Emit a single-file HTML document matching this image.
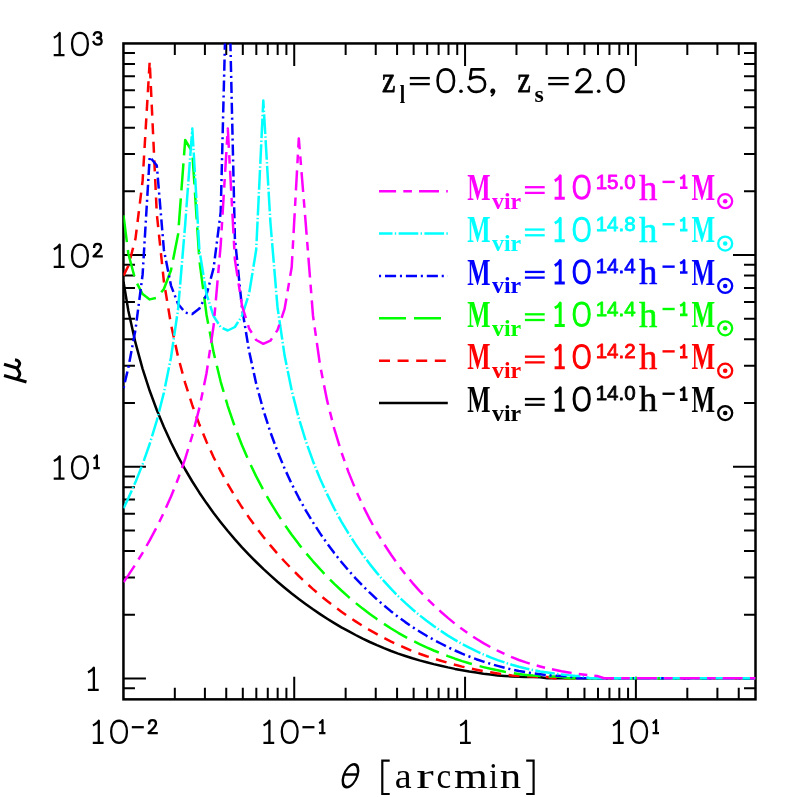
<!DOCTYPE html><html><head><meta charset="utf-8"><style>html,body{margin:0;padding:0;background:#fff}body{width:797px;height:797px;position:relative;overflow:hidden;font-family:"Liberation Sans",sans-serif}</style></head><body><svg width="797" height="797" viewBox="0 0 797 797" style="position:absolute;left:0;top:0">
<rect width="797" height="797" fill="#fff"/>
<defs><clipPath id="c"><rect x="123.45" y="43.45" width="632.05" height="655.9"/></clipPath></defs>
<path d="M174.82,699.35 v-11.5 M174.82,43.45 v11.5 M204.91,699.35 v-11.5 M204.91,43.45 v11.5 M226.25,699.35 v-11.5 M226.25,43.45 v11.5 M242.81,699.35 v-11.5 M242.81,43.45 v11.5 M256.33,699.35 v-11.5 M256.33,43.45 v11.5 M267.77,699.35 v-11.5 M267.77,43.45 v11.5 M277.67,699.35 v-11.5 M277.67,43.45 v11.5 M286.41,699.35 v-11.5 M286.41,43.45 v11.5 M294.23,699.35 v-22.5 M294.23,43.45 v22.5 M345.65,699.35 v-11.5 M345.65,43.45 v11.5 M375.74,699.35 v-11.5 M375.74,43.45 v11.5 M397.08,699.35 v-11.5 M397.08,43.45 v11.5 M413.64,699.35 v-11.5 M413.64,43.45 v11.5 M427.16,699.35 v-11.5 M427.16,43.45 v11.5 M438.60,699.35 v-11.5 M438.60,43.45 v11.5 M448.50,699.35 v-11.5 M448.50,43.45 v11.5 M457.24,699.35 v-11.5 M457.24,43.45 v11.5 M465.06,699.35 v-22.5 M465.06,43.45 v22.5 M516.48,699.35 v-11.5 M516.48,43.45 v11.5 M546.57,699.35 v-11.5 M546.57,43.45 v11.5 M567.91,699.35 v-11.5 M567.91,43.45 v11.5 M584.47,699.35 v-11.5 M584.47,43.45 v11.5 M597.99,699.35 v-11.5 M597.99,43.45 v11.5 M609.43,699.35 v-11.5 M609.43,43.45 v11.5 M619.33,699.35 v-11.5 M619.33,43.45 v11.5 M628.07,699.35 v-11.5 M628.07,43.45 v11.5 M635.89,699.35 v-22.5 M635.89,43.45 v22.5 M687.31,699.35 v-11.5 M687.31,43.45 v11.5 M717.40,699.35 v-11.5 M717.40,43.45 v11.5 M738.74,699.35 v-11.5 M738.74,43.45 v11.5 M123.45,688.19 h11.5 M755.5,688.19 h-11.5 M123.45,678.50 h22.5 M755.5,678.50 h-22.5 M123.45,614.77 h11.5 M755.5,614.77 h-11.5 M123.45,577.49 h11.5 M755.5,577.49 h-11.5 M123.45,551.04 h11.5 M755.5,551.04 h-11.5 M123.45,530.53 h11.5 M755.5,530.53 h-11.5 M123.45,513.77 h11.5 M755.5,513.77 h-11.5 M123.45,499.59 h11.5 M755.5,499.59 h-11.5 M123.45,487.32 h11.5 M755.5,487.32 h-11.5 M123.45,476.49 h11.5 M755.5,476.49 h-11.5 M123.45,466.80 h22.5 M755.5,466.80 h-22.5 M123.45,403.07 h11.5 M755.5,403.07 h-11.5 M123.45,365.79 h11.5 M755.5,365.79 h-11.5 M123.45,339.34 h11.5 M755.5,339.34 h-11.5 M123.45,318.83 h11.5 M755.5,318.83 h-11.5 M123.45,302.07 h11.5 M755.5,302.07 h-11.5 M123.45,287.89 h11.5 M755.5,287.89 h-11.5 M123.45,275.62 h11.5 M755.5,275.62 h-11.5 M123.45,264.79 h11.5 M755.5,264.79 h-11.5 M123.45,255.10 h22.5 M755.5,255.10 h-22.5 M123.45,191.37 h11.5 M755.5,191.37 h-11.5 M123.45,154.09 h11.5 M755.5,154.09 h-11.5 M123.45,127.64 h11.5 M755.5,127.64 h-11.5 M123.45,107.13 h11.5 M755.5,107.13 h-11.5 M123.45,90.37 h11.5 M755.5,90.37 h-11.5 M123.45,76.19 h11.5 M755.5,76.19 h-11.5 M123.45,63.92 h11.5 M755.5,63.92 h-11.5 M123.45,53.09 h11.5 M755.5,53.09 h-11.5" stroke="#000" stroke-width="2.0" fill="none"/>
<rect x="123.45" y="43.45" width="632.05" height="655.9" fill="none" stroke="#000" stroke-width="2.5"/>
<g clip-path="url(#c)" fill="none" stroke-width="2.50" stroke-linejoin="round">
<path d="M123.5,281.6 L128.4,311.0 L135.5,342.9 L142.6,368.8 L149.7,390.8 L156.8,410.0 L163.9,427.1 L171.0,442.5 L178.1,456.6 L185.2,469.5 L192.3,481.5 L199.4,492.7 L206.5,503.1 L213.6,513.0 L220.7,522.2 L227.8,531.0 L234.9,539.4 L242.0,547.3 L249.1,554.8 L256.2,562.0 L263.3,568.9 L270.4,575.4 L277.5,581.7 L284.6,587.7 L291.7,593.5 L298.8,599.0 L305.9,604.2 L313.0,609.3 L320.1,614.1 L327.2,618.7 L334.3,623.1 L341.4,627.3 L348.5,631.2 L355.6,635.0 L362.7,638.6 L369.8,642.0 L376.9,645.2 L384.0,648.2 L391.1,651.0 L398.2,653.6 L405.3,656.0 L412.4,658.3 L419.5,660.4 L426.6,662.3 L433.7,664.1 L440.8,665.7 L447.9,667.4 L455.0,668.9 L462.1,670.2 L469.2,671.5 L476.3,672.6 L483.4,673.7 L490.5,674.6 L497.6,675.4 L504.7,675.9 L511.8,676.4 L518.9,676.7 L526.0,677.0 L533.1,677.1 L540.2,677.3 L547.3,678.2 L755.5,678.2" stroke="#000000"/>
<path d="M123.5,275.6 L128.4,265.8 L135.5,238.6 L142.6,180.9 L149.7,61.3 L156.8,213.8 L163.9,281.5 L171.0,324.5 L178.1,356.9 L185.2,383.1 L192.3,405.2 L199.4,424.6 L206.5,441.7 L213.6,457.2 L220.7,471.2 L227.8,484.2 L234.9,496.2 L242.0,507.3 L249.1,517.7 L256.2,527.5 L263.3,536.7 L270.4,545.4 L277.5,553.7 L284.6,561.5 L291.7,568.9 L298.8,576.0 L305.9,582.7 L313.0,589.1 L320.1,595.2 L327.2,601.0 L334.3,606.5 L341.4,611.7 L348.5,616.7 L355.6,621.4 L362.7,625.9 L369.8,630.2 L376.9,634.2 L384.0,638.0 L391.1,641.6 L398.2,644.9 L405.3,648.0 L412.4,651.0 L419.5,653.7 L426.6,656.2 L433.7,658.5 L440.8,660.7 L447.9,662.8 L455.0,664.8 L462.1,666.6 L469.2,668.2 L476.3,669.7 L483.4,671.1 L490.5,672.3 L497.6,673.4 L504.7,674.5 L511.8,675.4 L518.9,676.0 L526.0,676.3 L533.1,676.6 L540.2,676.8 L547.3,677.0 L554.4,678.2 L755.5,678.2" stroke="#ff0000" stroke-dasharray="11 7.6" stroke-dashoffset="0"/>
<path d="M123.5,215.3 L128.4,254.0 L135.5,280.5 L142.6,294.1 L149.7,299.4 L156.8,297.8 L163.9,289.0 L171.0,270.3 L178.1,234.3 L185.2,140.0 L192.3,152.0 L199.4,260.4 L206.5,314.7 L213.6,352.4 L220.7,381.8 L227.8,406.1 L234.9,427.0 L242.0,445.3 L249.1,461.6 L256.2,476.4 L263.3,489.9 L270.4,502.4 L277.5,513.9 L284.6,524.6 L291.7,534.7 L298.8,544.1 L305.9,553.0 L313.0,561.3 L320.1,569.2 L327.2,576.7 L334.3,583.8 L341.4,590.5 L348.5,596.9 L355.6,602.9 L362.7,608.6 L369.8,614.0 L376.9,619.1 L384.0,623.9 L391.1,628.5 L398.2,632.8 L405.3,636.8 L412.4,640.6 L419.5,644.1 L426.6,647.4 L433.7,650.5 L440.8,653.3 L447.9,656.1 L455.0,658.7 L462.1,661.1 L469.2,663.3 L476.3,665.3 L483.4,667.1 L490.5,668.8 L497.6,670.3 L504.7,671.7 L511.8,672.9 L518.9,674.1 L526.0,674.9 L533.1,675.6 L540.2,676.1 L547.3,676.4 L554.4,676.6 L561.5,676.9 L568.6,678.2 L755.5,678.2" stroke="#00ff00" stroke-dasharray="27 8" stroke-dashoffset="0"/>
<path d="M123.5,388.1 L128.4,367.4 L135.5,329.5 L142.6,274.7 L149.7,156.7 L156.8,165.5 L163.9,249.9 L171.0,285.6 L178.1,304.0 L185.2,312.6 L192.3,314.1 L199.4,308.6 L206.5,294.8 L213.6,268.1 L220.7,212.1 L227.8,-70.0 L234.9,238.7 L242.0,307.8 L249.1,351.2 L256.2,383.7 L263.3,410.0 L270.4,432.2 L277.5,451.4 L284.6,468.5 L291.7,483.9 L298.8,497.8 L305.9,510.6 L313.0,522.4 L320.1,533.4 L327.2,543.5 L334.3,553.1 L341.4,562.0 L348.5,570.4 L355.6,578.3 L362.7,585.7 L369.8,592.7 L376.9,599.3 L384.0,605.5 L391.1,611.4 L398.2,616.9 L405.3,622.1 L412.4,627.0 L419.5,631.5 L426.6,635.8 L433.7,639.8 L440.8,643.5 L447.9,647.2 L455.0,650.5 L462.1,653.7 L469.2,656.5 L476.3,659.2 L483.4,661.6 L490.5,663.9 L497.6,665.9 L504.7,667.8 L511.8,669.5 L518.9,671.0 L526.0,672.2 L533.1,673.3 L540.2,674.2 L547.3,675.1 L554.4,675.8 L561.5,676.1 L568.6,676.4 L575.7,678.2 L755.5,678.2" stroke="#0000ff" stroke-dasharray="11.1 3.8 2.1 3.9" stroke-dashoffset="14.9"/>
<path d="M123.5,508.3 L128.4,498.1 L135.5,482.1 L142.6,464.2 L149.7,444.0 L156.8,420.6 L163.9,392.6 L171.0,357.5 L178.1,309.0 L185.2,224.3 L192.3,128.5 L199.4,250.1 L206.5,294.1 L213.6,316.1 L220.7,327.1 L227.8,330.5 L234.9,327.0 L242.0,315.8 L249.1,293.7 L256.2,249.8 L263.3,100.5 L270.4,222.3 L277.5,307.2 L284.6,355.6 L291.7,390.5 L298.8,418.2 L305.9,441.3 L313.0,461.2 L320.1,478.8 L327.2,494.4 L334.3,508.6 L341.4,521.6 L348.5,533.4 L355.6,544.4 L362.7,554.6 L369.8,564.1 L376.9,572.9 L384.0,581.2 L391.1,588.9 L398.2,596.2 L405.3,602.9 L412.4,609.3 L419.5,615.2 L426.6,620.8 L433.7,626.0 L440.8,630.9 L447.9,635.6 L455.0,639.9 L462.1,644.0 L469.2,647.7 L476.3,651.2 L483.4,654.4 L490.5,657.4 L497.6,660.1 L504.7,662.5 L511.8,664.8 L518.9,666.8 L526.0,668.5 L533.1,670.0 L540.2,671.4 L547.3,672.5 L554.4,673.6 L561.5,674.5 L568.6,675.3 L575.7,675.9 L582.8,676.2 L589.9,678.2 L755.5,678.2" stroke="#00ffff" stroke-dasharray="19.7 2.3 1.4 2.4" stroke-dashoffset="0"/>
<path d="M123.5,582.2 L128.4,575.1 L135.5,564.3 L142.6,552.8 L149.7,540.4 L156.8,527.1 L163.9,512.5 L171.0,496.5 L178.1,478.8 L185.2,458.7 L192.3,435.5 L199.4,407.9 L206.5,373.3 L213.6,325.8 L220.7,244.9 L227.8,128.5 L234.9,259.6 L242.0,305.6 L249.1,328.5 L256.2,340.0 L263.3,343.8 L270.4,340.7 L277.5,330.1 L284.6,308.9 L291.7,267.2 L298.8,138.4 L305.9,225.6 L313.0,315.7 L320.1,365.5 L327.2,400.9 L334.3,428.9 L341.4,452.2 L348.5,472.1 L355.6,489.7 L362.7,505.3 L369.8,519.4 L376.9,532.3 L384.0,544.0 L391.1,554.8 L398.2,564.9 L405.3,574.1 L412.4,582.8 L419.5,590.8 L426.6,598.2 L433.7,605.2 L440.8,611.7 L447.9,617.9 L455.0,623.7 L462.1,629.1 L469.2,634.1 L476.3,638.8 L483.4,643.1 L490.5,647.1 L497.6,650.7 L504.7,654.1 L511.8,657.2 L518.9,660.0 L526.0,662.4 L533.1,664.6 L540.2,666.5 L547.3,668.3 L554.4,669.8 L561.5,671.2 L568.6,672.4 L575.7,673.5 L582.8,674.4 L589.9,675.2 L597.0,675.9 L604.1,678.2 L755.5,678.2" stroke="#ff00ff" stroke-dasharray="20 7.2 8.6 7.1" stroke-dashoffset="0"/>
</g>
<path d="M379,191.20 H447.8" stroke="#ff00ff" stroke-width="2.5" stroke-dasharray="20 7.2 8.6 7.1" stroke-dashoffset="2.9" fill="none"/>
<path d="M379,233.57 H447.8" stroke="#00ffff" stroke-width="2.5" stroke-dasharray="19.7 2.3 1.4 2.4" stroke-dashoffset="6.2" fill="none"/>
<path d="M379,275.94 H447.8" stroke="#0000ff" stroke-width="2.5" stroke-dasharray="11.1 3.8 2.1 3.9" stroke-dashoffset="14.9" fill="none"/>
<path d="M379,318.31 H447.8" stroke="#00ff00" stroke-width="2.5" stroke-dasharray="27 8" stroke-dashoffset="0" fill="none"/>
<path d="M379,360.68 H447.8" stroke="#ff0000" stroke-width="2.5" stroke-dasharray="11 7.6" stroke-dashoffset="0" fill="none"/>
<path d="M379,403.05 H447.8" stroke="#000000" stroke-width="2.5" fill="none"/>
<g opacity="0.999">
<path d="M54.85,37.17 C56.78,36.28 58.71,34.73 59.68,32.95 L59.68,55.15 M54.85,55.15 L63.35,55.15" fill="none" stroke="#000" stroke-width="2.3" stroke-linecap="square" stroke-linejoin="round"/>
<path d="M79.95,32.95 C74.83,32.95 72.05,37.39 72.05,44.05 C72.05,50.71 74.83,55.15 79.95,55.15 C85.07,55.15 87.85,50.71 87.85,44.05 C87.85,37.39 85.07,32.95 79.95,32.95 Z" fill="none" stroke="#000" stroke-width="2.3" stroke-linecap="square" stroke-linejoin="round"/>
<path d="M94.00,34.65 C94.45,33.02 95.80,32.15 97.60,32.15 C99.63,32.15 101.09,33.27 101.09,35.15 C101.09,37.02 99.63,38.02 97.15,38.02 C99.96,38.02 101.65,39.27 101.65,41.27 C101.65,43.40 99.85,44.65 97.60,44.65 C95.58,44.65 94.11,43.77 93.55,42.02" fill="none" stroke="#000" stroke-width="2.3" stroke-linecap="square" stroke-linejoin="round"/>
<path d="M54.85,248.87 C56.78,247.98 58.71,246.43 59.68,244.65 L59.68,266.85 M54.85,266.85 L63.35,266.85" fill="none" stroke="#000" stroke-width="2.3" stroke-linecap="square" stroke-linejoin="round"/>
<path d="M79.95,244.65 C74.83,244.65 72.05,249.09 72.05,255.75 C72.05,262.41 74.83,266.85 79.95,266.85 C85.07,266.85 87.85,262.41 87.85,255.75 C87.85,249.09 85.07,244.65 79.95,244.65 Z" fill="none" stroke="#000" stroke-width="2.3" stroke-linecap="square" stroke-linejoin="round"/>
<path d="M94.10,246.97 C94.10,244.97 95.52,243.85 97.49,243.85 C99.57,243.85 100.99,245.10 100.99,246.97 C100.99,249.10 99.57,250.48 96.83,253.10 L93.55,256.35 L101.65,256.35" fill="none" stroke="#000" stroke-width="2.3" stroke-linecap="square" stroke-linejoin="round"/>
<path d="M54.85,460.57 C56.78,459.68 58.71,458.13 59.68,456.35 L59.68,478.55 M54.85,478.55 L63.35,478.55" fill="none" stroke="#000" stroke-width="2.3" stroke-linecap="square" stroke-linejoin="round"/>
<path d="M79.95,456.35 C74.83,456.35 72.05,460.79 72.05,467.45 C72.05,474.11 74.83,478.55 79.95,478.55 C85.07,478.55 87.85,474.11 87.85,467.45 C87.85,460.79 85.07,456.35 79.95,456.35 Z" fill="none" stroke="#000" stroke-width="2.3" stroke-linecap="square" stroke-linejoin="round"/>
<path d="M94.55,457.93 C95.48,457.43 96.41,456.55 96.88,455.55 L96.88,468.05 M94.55,468.05 L98.65,468.05" fill="none" stroke="#000" stroke-width="2.3" stroke-linecap="square" stroke-linejoin="round"/>
<path d="M89.05,671.87 C90.98,670.98 92.91,669.43 93.88,667.65 L93.88,689.85 M89.05,689.85 L97.55,689.85" fill="none" stroke="#000" stroke-width="2.3" stroke-linecap="square" stroke-linejoin="round"/>
<path d="M93.95,724.95 C95.88,724.07 97.81,722.52 98.78,720.75 L98.78,742.85 M93.95,742.85 L102.45,742.85" fill="none" stroke="#000" stroke-width="2.3" stroke-linecap="square" stroke-linejoin="round"/>
<path d="M119.05,720.75 C113.93,720.75 111.15,725.17 111.15,731.80 C111.15,738.43 113.93,742.85 119.05,742.85 C124.17,742.85 126.95,738.43 126.95,731.80 C126.95,725.17 124.17,720.75 119.05,720.75 Z" fill="none" stroke="#000" stroke-width="2.3" stroke-linecap="square" stroke-linejoin="round"/>
<path d="M131.80,727.21 H143.80" stroke="#000" stroke-width="2.3" fill="none"/>
<path d="M149.10,723.38 C149.10,721.31 150.52,720.15 152.49,720.15 C154.57,720.15 155.99,721.44 155.99,723.38 C155.99,725.57 154.57,726.99 151.83,729.70 L148.55,733.05 L156.65,733.05" fill="none" stroke="#000" stroke-width="2.3" stroke-linecap="square" stroke-linejoin="round"/>
<path d="M264.58,724.95 C266.51,724.07 268.44,722.52 269.41,720.75 L269.41,742.85 M264.58,742.85 L273.08,742.85" fill="none" stroke="#000" stroke-width="2.3" stroke-linecap="square" stroke-linejoin="round"/>
<path d="M289.68,720.75 C284.56,720.75 281.78,725.17 281.78,731.80 C281.78,738.43 284.56,742.85 289.68,742.85 C294.80,742.85 297.58,738.43 297.58,731.80 C297.58,725.17 294.80,720.75 289.68,720.75 Z" fill="none" stroke="#000" stroke-width="2.3" stroke-linecap="square" stroke-linejoin="round"/>
<path d="M302.43,727.21 H314.43" stroke="#000" stroke-width="2.3" fill="none"/>
<path d="M320.18,722.60 C321.11,722.09 322.04,721.18 322.51,720.15 L322.51,733.05 M320.18,733.05 L324.28,733.05" fill="none" stroke="#000" stroke-width="2.3" stroke-linecap="square" stroke-linejoin="round"/>
<path d="M461.15,724.95 C463.08,724.07 465.01,722.52 465.98,720.75 L465.98,742.85 M461.15,742.85 L469.65,742.85" fill="none" stroke="#000" stroke-width="2.3" stroke-linecap="square" stroke-linejoin="round"/>
<path d="M614.05,724.95 C615.98,724.07 617.91,722.52 618.88,720.75 L618.88,742.85 M614.05,742.85 L622.55,742.85" fill="none" stroke="#000" stroke-width="2.3" stroke-linecap="square" stroke-linejoin="round"/>
<path d="M639.15,720.75 C634.03,720.75 631.25,725.17 631.25,731.80 C631.25,738.43 634.03,742.85 639.15,742.85 C644.27,742.85 647.05,738.43 647.05,731.80 C647.05,725.17 644.27,720.75 639.15,720.75 Z" fill="none" stroke="#000" stroke-width="2.3" stroke-linecap="square" stroke-linejoin="round"/>
<path d="M653.75,722.60 C654.68,722.09 655.61,721.18 656.08,720.15 L656.08,733.05 M653.75,733.05 L657.85,733.05" fill="none" stroke="#000" stroke-width="2.3" stroke-linecap="square" stroke-linejoin="round"/>
<g transform="translate(350.45,775.7) skewX(-16.7)" fill="none" stroke="#000" stroke-width="2.4"><ellipse cx="0" cy="0" rx="6.9" ry="11.5"/><path d="M-6.7,-1.2 H6.7"/></g>
<path d="M389.7,760.6 H382.3 V794 H389.7 M526.2,760.6 H533.6 V794 H526.2" fill="none" stroke="#000" stroke-width="2.2"/>
<text transform="translate(394.80,787.70) scale(1.034,1)" font-family="Liberation Serif" font-size="36.82" font-weight="normal" font-style="normal" fill="#000">a</text>
<text transform="translate(416.20,787.70) scale(1.427,1)" font-family="Liberation Serif" font-size="36.82" font-weight="normal" font-style="normal" fill="#000">r</text>
<text transform="translate(436.50,787.70) scale(0.899,1)" font-family="Liberation Serif" font-size="36.82" font-weight="normal" font-style="normal" fill="#000">c</text>
<text transform="translate(454.00,787.70) scale(1.180,1)" font-family="Liberation Serif" font-size="36.82" font-weight="normal" font-style="normal" fill="#000">m</text>
<text transform="translate(489.00,787.70) scale(0.879,1)" font-family="Liberation Serif" font-size="36.82" font-weight="normal" font-style="normal" fill="#000">i</text>
<text transform="translate(499.70,787.70) scale(1.162,1)" font-family="Liberation Serif" font-size="36.82" font-weight="normal" font-style="normal" fill="#000">n</text>
<g fill="none" stroke="#000" stroke-width="3" stroke-linecap="butt"><path d="M4,375.5 L26.5,382"/><path d="M4,364.3 L17.5,368.3"/><path d="M15,359.7 C18.5,360.3 20,362.5 19.5,364.5 C19,366.5 17.3,367.3 17.3,368.6 C17.3,370 20,371.5 19.8,374 C19.6,376.5 18,378 16.3,379"/></g>
<text transform="translate(382.00,91.80) scale(0.844,1)" font-family="Liberation Serif" font-size="35.51" font-weight="normal" font-style="normal" fill="#000" stroke="#000" stroke-width="0.9" stroke-linejoin="round">z</text>
<text transform="translate(399.70,102.60) scale(0.798,1)" font-family="Liberation Serif" font-size="24.35" font-weight="bold" font-style="normal" fill="#000">l</text>
<path d="M409.80,78.10 H429.80" stroke="#000" stroke-width="2.3" fill="none"/>
<path d="M409.80,84.10 H429.80" stroke="#000" stroke-width="2.3" fill="none"/>
<path d="M445.80,69.40 C440.48,69.40 437.60,73.90 437.60,80.65 C437.60,87.40 440.48,91.90 445.80,91.90 C451.12,91.90 454.00,87.40 454.00,80.65 C454.00,73.90 451.12,69.40 445.80,69.40 Z" fill="none" stroke="#000" stroke-width="2.6" stroke-linecap="square" stroke-linejoin="round"/>
<circle cx="461" cy="91.3" r="1.8"/>
<path d="M483.28,69.40 L471.43,69.40 L470.07,79.08 C471.89,77.50 474.17,76.83 476.90,76.83 C481.91,76.83 485.10,79.75 485.10,84.25 C485.10,88.75 481.68,91.90 476.67,91.90 C473.03,91.90 470.07,90.33 468.70,87.18" fill="none" stroke="#000" stroke-width="2.6" stroke-linecap="square" stroke-linejoin="round"/>
<path d="M492.8,89.4 a1.8,1.8 0 1,0 0.01,0 M494.3,91 C494.5,93.5 493,95 491,96" fill="none" stroke="#000" stroke-width="1.6"/><circle cx="492.8" cy="91.2" r="1.8"/>
<text transform="translate(517.50,91.80) scale(0.837,1)" font-family="Liberation Serif" font-size="35.51" font-weight="normal" font-style="normal" fill="#000" stroke="#000" stroke-width="0.9" stroke-linejoin="round">z</text>
<text transform="translate(534.50,102.36) scale(1.009,1)" font-family="Liberation Serif" font-size="23.70" font-weight="bold" font-style="normal" fill="#000">s</text>
<path d="M548.20,78.10 H568.70" stroke="#000" stroke-width="2.3" fill="none"/>
<path d="M548.20,84.10 H568.70" stroke="#000" stroke-width="2.3" fill="none"/>
<path d="M577.05,75.02 C577.05,71.42 579.77,69.40 583.54,69.40 C587.52,69.40 590.24,71.65 590.24,75.02 C590.24,78.85 587.52,81.33 582.28,86.05 L576.00,91.90 L591.50,91.90" fill="none" stroke="#000" stroke-width="2.6" stroke-linecap="square" stroke-linejoin="round"/>
<circle cx="598.7" cy="91.3" r="1.8"/>
<path d="M615.65,69.40 C610.49,69.40 607.70,73.90 607.70,80.65 C607.70,87.40 610.49,91.90 615.65,91.90 C620.81,91.90 623.60,87.40 623.60,80.65 C623.60,73.90 620.81,69.40 615.65,69.40 Z" fill="none" stroke="#000" stroke-width="2.6" stroke-linecap="square" stroke-linejoin="round"/>
<text transform="translate(467.20,199.80) scale(0.636,1)" font-family="Liberation Serif" font-size="38.78" font-weight="bold" font-style="normal" fill="#ff00ff">M</text>
<text transform="translate(492.00,208.70) scale(1.075,1)" font-family="Liberation Serif" font-size="22.22" font-weight="bold" font-style="normal" fill="#ff00ff">vir</text>
<path d="M524.90,187.20 H544.70" stroke="#ff00ff" stroke-width="2.3" fill="none"/>
<path d="M524.90,192.90 H544.70" stroke="#ff00ff" stroke-width="2.3" fill="none"/>
<path d="M556.10,180.16 C557.74,179.26 559.37,177.69 560.19,175.90 L560.19,198.30 M556.10,198.30 L563.30,198.30" fill="none" stroke="#ff00ff" stroke-width="3.0" stroke-linecap="square" stroke-linejoin="round"/>
<path d="M581.70,175.90 C576.77,175.90 574.10,180.38 574.10,187.10 C574.10,193.82 576.77,198.30 581.70,198.30 C586.63,198.30 589.30,193.82 589.30,187.10 C589.30,180.38 586.63,175.90 581.70,175.90 Z" fill="none" stroke="#ff00ff" stroke-width="3.0" stroke-linecap="square" stroke-linejoin="round"/>
<text transform="translate(595.70,188.50) scale(1.047,1)" font-family="Liberation Sans" font-size="19.63" font-weight="normal" font-style="normal" fill="#ff00ff" stroke="#ff00ff" stroke-width="0.8" stroke-linejoin="round">15.0</text>
<text transform="translate(639.00,199.60) scale(1.022,1)" font-family="Liberation Serif" font-size="36.02" font-weight="normal" font-style="normal" fill="#ff00ff" stroke="#ff00ff" stroke-width="0.5" stroke-linejoin="round">h</text>
<path d="M662.50,181.90 H674.70" stroke="#ff00ff" stroke-width="2.4" fill="none"/>
<path d="M681.35,178.03 C682.44,177.55 683.53,176.71 684.08,175.75 L684.08,187.75 M681.35,187.75 L686.15,187.75" fill="none" stroke="#ff00ff" stroke-width="2.7" stroke-linecap="square" stroke-linejoin="round"/>
<text transform="translate(691.60,199.80) scale(0.645,1)" font-family="Liberation Serif" font-size="38.78" font-weight="bold" font-style="normal" fill="#ff00ff">M</text>
<circle cx="725.2" cy="201.20" r="7" fill="none" stroke="#ff00ff" stroke-width="2.3"/><circle cx="725.2" cy="201.20" r="2.3" fill="#ff00ff"/>
<text transform="translate(467.20,242.17) scale(0.636,1)" font-family="Liberation Serif" font-size="38.78" font-weight="bold" font-style="normal" fill="#00ffff">M</text>
<text transform="translate(492.00,251.07) scale(1.075,1)" font-family="Liberation Serif" font-size="22.22" font-weight="bold" font-style="normal" fill="#00ffff">vir</text>
<path d="M524.90,229.57 H544.70" stroke="#00ffff" stroke-width="2.3" fill="none"/>
<path d="M524.90,235.27 H544.70" stroke="#00ffff" stroke-width="2.3" fill="none"/>
<path d="M556.10,222.53 C557.74,221.63 559.37,220.06 560.19,218.27 L560.19,240.67 M556.10,240.67 L563.30,240.67" fill="none" stroke="#00ffff" stroke-width="3.0" stroke-linecap="square" stroke-linejoin="round"/>
<path d="M581.70,218.27 C576.77,218.27 574.10,222.75 574.10,229.47 C574.10,236.19 576.77,240.67 581.70,240.67 C586.63,240.67 589.30,236.19 589.30,229.47 C589.30,222.75 586.63,218.27 581.70,218.27 Z" fill="none" stroke="#00ffff" stroke-width="3.0" stroke-linecap="square" stroke-linejoin="round"/>
<text transform="translate(595.70,230.87) scale(1.047,1)" font-family="Liberation Sans" font-size="19.63" font-weight="normal" font-style="normal" fill="#00ffff" stroke="#00ffff" stroke-width="0.8" stroke-linejoin="round">14.8</text>
<text transform="translate(639.00,241.97) scale(1.022,1)" font-family="Liberation Serif" font-size="36.02" font-weight="normal" font-style="normal" fill="#00ffff" stroke="#00ffff" stroke-width="0.5" stroke-linejoin="round">h</text>
<path d="M662.50,224.27 H674.70" stroke="#00ffff" stroke-width="2.4" fill="none"/>
<path d="M681.35,220.40 C682.44,219.92 683.53,219.08 684.08,218.12 L684.08,230.12 M681.35,230.12 L686.15,230.12" fill="none" stroke="#00ffff" stroke-width="2.7" stroke-linecap="square" stroke-linejoin="round"/>
<text transform="translate(691.60,242.17) scale(0.645,1)" font-family="Liberation Serif" font-size="38.78" font-weight="bold" font-style="normal" fill="#00ffff">M</text>
<circle cx="725.2" cy="243.57" r="7" fill="none" stroke="#00ffff" stroke-width="2.3"/><circle cx="725.2" cy="243.57" r="2.3" fill="#00ffff"/>
<text transform="translate(467.20,284.54) scale(0.636,1)" font-family="Liberation Serif" font-size="38.78" font-weight="bold" font-style="normal" fill="#0000ff">M</text>
<text transform="translate(492.00,293.44) scale(1.075,1)" font-family="Liberation Serif" font-size="22.22" font-weight="bold" font-style="normal" fill="#0000ff">vir</text>
<path d="M524.90,271.94 H544.70" stroke="#0000ff" stroke-width="2.3" fill="none"/>
<path d="M524.90,277.64 H544.70" stroke="#0000ff" stroke-width="2.3" fill="none"/>
<path d="M556.10,264.90 C557.74,264.00 559.37,262.43 560.19,260.64 L560.19,283.04 M556.10,283.04 L563.30,283.04" fill="none" stroke="#0000ff" stroke-width="3.0" stroke-linecap="square" stroke-linejoin="round"/>
<path d="M581.70,260.64 C576.77,260.64 574.10,265.12 574.10,271.84 C574.10,278.56 576.77,283.04 581.70,283.04 C586.63,283.04 589.30,278.56 589.30,271.84 C589.30,265.12 586.63,260.64 581.70,260.64 Z" fill="none" stroke="#0000ff" stroke-width="3.0" stroke-linecap="square" stroke-linejoin="round"/>
<text transform="translate(595.70,273.44) scale(1.017,1)" font-family="Liberation Sans" font-size="20.20" font-weight="normal" font-style="normal" fill="#0000ff" stroke="#0000ff" stroke-width="0.8" stroke-linejoin="round">14.4</text>
<text transform="translate(639.00,284.34) scale(1.022,1)" font-family="Liberation Serif" font-size="36.02" font-weight="normal" font-style="normal" fill="#0000ff" stroke="#0000ff" stroke-width="0.5" stroke-linejoin="round">h</text>
<path d="M662.50,266.64 H674.70" stroke="#0000ff" stroke-width="2.4" fill="none"/>
<path d="M681.35,262.77 C682.44,262.29 683.53,261.45 684.08,260.49 L684.08,272.49 M681.35,272.49 L686.15,272.49" fill="none" stroke="#0000ff" stroke-width="2.7" stroke-linecap="square" stroke-linejoin="round"/>
<text transform="translate(691.60,284.54) scale(0.645,1)" font-family="Liberation Serif" font-size="38.78" font-weight="bold" font-style="normal" fill="#0000ff">M</text>
<circle cx="725.2" cy="285.94" r="7" fill="none" stroke="#0000ff" stroke-width="2.3"/><circle cx="725.2" cy="285.94" r="2.3" fill="#0000ff"/>
<text transform="translate(467.20,326.91) scale(0.636,1)" font-family="Liberation Serif" font-size="38.78" font-weight="bold" font-style="normal" fill="#00ff00">M</text>
<text transform="translate(492.00,335.81) scale(1.075,1)" font-family="Liberation Serif" font-size="22.22" font-weight="bold" font-style="normal" fill="#00ff00">vir</text>
<path d="M524.90,314.31 H544.70" stroke="#00ff00" stroke-width="2.3" fill="none"/>
<path d="M524.90,320.01 H544.70" stroke="#00ff00" stroke-width="2.3" fill="none"/>
<path d="M556.10,307.27 C557.74,306.37 559.37,304.80 560.19,303.01 L560.19,325.41 M556.10,325.41 L563.30,325.41" fill="none" stroke="#00ff00" stroke-width="3.0" stroke-linecap="square" stroke-linejoin="round"/>
<path d="M581.70,303.01 C576.77,303.01 574.10,307.49 574.10,314.21 C574.10,320.93 576.77,325.41 581.70,325.41 C586.63,325.41 589.30,320.93 589.30,314.21 C589.30,307.49 586.63,303.01 581.70,303.01 Z" fill="none" stroke="#00ff00" stroke-width="3.0" stroke-linecap="square" stroke-linejoin="round"/>
<text transform="translate(595.70,315.81) scale(1.017,1)" font-family="Liberation Sans" font-size="20.20" font-weight="normal" font-style="normal" fill="#00ff00" stroke="#00ff00" stroke-width="0.8" stroke-linejoin="round">14.4</text>
<text transform="translate(639.00,326.71) scale(1.022,1)" font-family="Liberation Serif" font-size="36.02" font-weight="normal" font-style="normal" fill="#00ff00" stroke="#00ff00" stroke-width="0.5" stroke-linejoin="round">h</text>
<path d="M662.50,309.01 H674.70" stroke="#00ff00" stroke-width="2.4" fill="none"/>
<path d="M681.35,305.14 C682.44,304.66 683.53,303.82 684.08,302.86 L684.08,314.86 M681.35,314.86 L686.15,314.86" fill="none" stroke="#00ff00" stroke-width="2.7" stroke-linecap="square" stroke-linejoin="round"/>
<text transform="translate(691.60,326.91) scale(0.645,1)" font-family="Liberation Serif" font-size="38.78" font-weight="bold" font-style="normal" fill="#00ff00">M</text>
<circle cx="725.2" cy="328.31" r="7" fill="none" stroke="#00ff00" stroke-width="2.3"/><circle cx="725.2" cy="328.31" r="2.3" fill="#00ff00"/>
<text transform="translate(467.20,369.28) scale(0.636,1)" font-family="Liberation Serif" font-size="38.78" font-weight="bold" font-style="normal" fill="#ff0000">M</text>
<text transform="translate(492.00,378.18) scale(1.075,1)" font-family="Liberation Serif" font-size="22.22" font-weight="bold" font-style="normal" fill="#ff0000">vir</text>
<path d="M524.90,356.68 H544.70" stroke="#ff0000" stroke-width="2.3" fill="none"/>
<path d="M524.90,362.38 H544.70" stroke="#ff0000" stroke-width="2.3" fill="none"/>
<path d="M556.10,349.64 C557.74,348.74 559.37,347.17 560.19,345.38 L560.19,367.78 M556.10,367.78 L563.30,367.78" fill="none" stroke="#ff0000" stroke-width="3.0" stroke-linecap="square" stroke-linejoin="round"/>
<path d="M581.70,345.38 C576.77,345.38 574.10,349.86 574.10,356.58 C574.10,363.30 576.77,367.78 581.70,367.78 C586.63,367.78 589.30,363.30 589.30,356.58 C589.30,349.86 586.63,345.38 581.70,345.38 Z" fill="none" stroke="#ff0000" stroke-width="3.0" stroke-linecap="square" stroke-linejoin="round"/>
<text transform="translate(595.70,358.18) scale(1.032,1)" font-family="Liberation Sans" font-size="19.91" font-weight="normal" font-style="normal" fill="#ff0000" stroke="#ff0000" stroke-width="0.8" stroke-linejoin="round">14.2</text>
<text transform="translate(639.00,369.08) scale(1.022,1)" font-family="Liberation Serif" font-size="36.02" font-weight="normal" font-style="normal" fill="#ff0000" stroke="#ff0000" stroke-width="0.5" stroke-linejoin="round">h</text>
<path d="M662.50,351.38 H674.70" stroke="#ff0000" stroke-width="2.4" fill="none"/>
<path d="M681.35,347.51 C682.44,347.03 683.53,346.19 684.08,345.23 L684.08,357.23 M681.35,357.23 L686.15,357.23" fill="none" stroke="#ff0000" stroke-width="2.7" stroke-linecap="square" stroke-linejoin="round"/>
<text transform="translate(691.60,369.28) scale(0.645,1)" font-family="Liberation Serif" font-size="38.78" font-weight="bold" font-style="normal" fill="#ff0000">M</text>
<circle cx="725.2" cy="370.68" r="7" fill="none" stroke="#ff0000" stroke-width="2.3"/><circle cx="725.2" cy="370.68" r="2.3" fill="#ff0000"/>
<text transform="translate(467.20,411.65) scale(0.636,1)" font-family="Liberation Serif" font-size="38.78" font-weight="bold" font-style="normal" fill="#000000">M</text>
<text transform="translate(492.00,420.55) scale(1.075,1)" font-family="Liberation Serif" font-size="22.22" font-weight="bold" font-style="normal" fill="#000000">vir</text>
<path d="M524.90,399.05 H544.70" stroke="#000000" stroke-width="2.3" fill="none"/>
<path d="M524.90,404.75 H544.70" stroke="#000000" stroke-width="2.3" fill="none"/>
<path d="M556.10,392.01 C557.74,391.11 559.37,389.54 560.19,387.75 L560.19,410.15 M556.10,410.15 L563.30,410.15" fill="none" stroke="#000000" stroke-width="3.0" stroke-linecap="square" stroke-linejoin="round"/>
<path d="M581.70,387.75 C576.77,387.75 574.10,392.23 574.10,398.95 C574.10,405.67 576.77,410.15 581.70,410.15 C586.63,410.15 589.30,405.67 589.30,398.95 C589.30,392.23 586.63,387.75 581.70,387.75 Z" fill="none" stroke="#000000" stroke-width="3.0" stroke-linecap="square" stroke-linejoin="round"/>
<text transform="translate(595.70,400.35) scale(1.047,1)" font-family="Liberation Sans" font-size="19.63" font-weight="normal" font-style="normal" fill="#000000" stroke="#000000" stroke-width="0.8" stroke-linejoin="round">14.0</text>
<text transform="translate(639.00,411.45) scale(1.022,1)" font-family="Liberation Serif" font-size="36.02" font-weight="normal" font-style="normal" fill="#000000" stroke="#000000" stroke-width="0.5" stroke-linejoin="round">h</text>
<path d="M662.50,393.75 H674.70" stroke="#000000" stroke-width="2.4" fill="none"/>
<path d="M681.35,389.88 C682.44,389.40 683.53,388.56 684.08,387.60 L684.08,399.60 M681.35,399.60 L686.15,399.60" fill="none" stroke="#000000" stroke-width="2.7" stroke-linecap="square" stroke-linejoin="round"/>
<text transform="translate(691.60,411.65) scale(0.645,1)" font-family="Liberation Serif" font-size="38.78" font-weight="bold" font-style="normal" fill="#000000">M</text>
<circle cx="725.2" cy="413.05" r="7" fill="none" stroke="#000000" stroke-width="2.3"/><circle cx="725.2" cy="413.05" r="2.3" fill="#000000"/>
</g>
</svg></body></html>
